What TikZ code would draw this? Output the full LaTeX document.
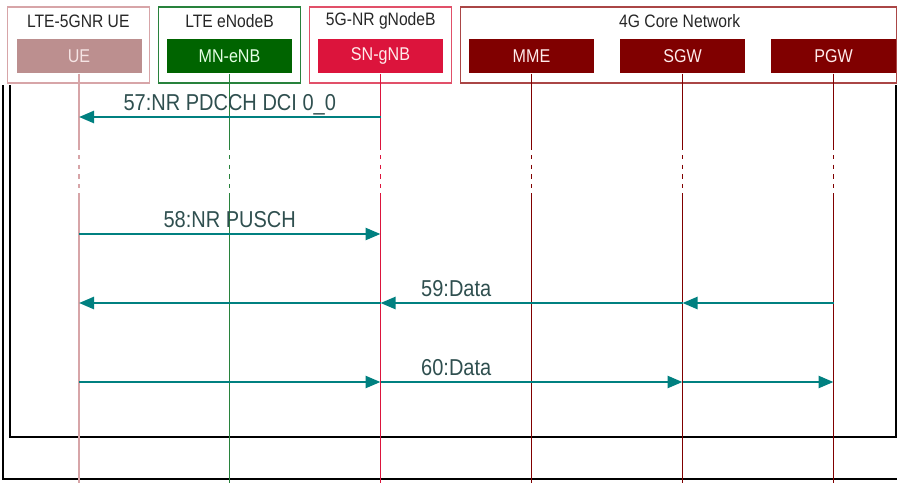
\documentclass[tikz,border=0pt]{standalone}
\usepackage{fontspec}
\setmainfont{Liberation Sans}[FakeStretch=0.87]
\usetikzlibrary{arrows.meta}
\definecolor{UeRose}{RGB}{188,143,143}
\definecolor{UeLine}{RGB}{215,165,168}
\definecolor{UeText}{RGB}{245,228,228}
\definecolor{EnbGreen}{RGB}{0,100,0}
\definecolor{EnbLine}{RGB}{40,130,60}
\definecolor{GnbRed}{RGB}{220,20,60}
\definecolor{GnbLine}{RGB}{225,80,105}
\definecolor{CoreRed}{RGB}{128,0,0}
\definecolor{CoreLine}{RGB}{170,70,70}
\definecolor{Teal}{RGB}{0,128,128}
\definecolor{Slate}{RGB}{47,79,79}

\begin{document}
\begin{tikzpicture}[
        x=1pt, y=-1pt,
        group/.style = {draw, line width=1.2pt, minimum height=76pt, inner sep=0pt},
        title/.style = {font=\fontsize{18}{20}\selectfont, text=black!85},
        entity/.style = {minimum width=125pt, minimum height=34pt, inner sep=0pt,
                         font=\fontsize{18.5}{20}\selectfont},
        frame/.style = {line width=2pt, black},
        msg/.style = {Teal, line width=2.5pt, -{Triangle[length=15pt, width=12pt]}},
        lbl/.style = {text=Slate, font=\fontsize{23}{25}\selectfont, anchor=base,
                      yshift=6.5pt, inner sep=0pt}
    ]
    \useasboundingbox (0,0) rectangle (897,483);

    % group boxes
    \node (gue)   at (78.3,45)  [group, draw=UeLine, minimum width=142pt] {};
    \node (genb)  at (229.5,45) [group, draw=EnbLine, minimum width=142pt] {};
    \node (ggnb)  at (380.8,45) [group, draw=GnbLine, minimum width=142pt] {};
    \node (gcore) at (678.7,45) [group, draw=CoreLine, minimum width=436pt] {};
    \node at (78.3,21)  [title] {LTE-5GNR UE};
    \node at (229.5,21) [title] {LTE eNodeB};
    \node at (380.8,21) [title] {5G-NR gNodeB};
    \node at (679.7,21) [title] {4G Core Network};

    % entities
    \node (ue)  at (79,56.3)    [entity, fill=UeRose, text=UeText] {UE};
    \node (mn)  at (229.5,56.3) [entity, fill=EnbGreen, text=white!90!green] {MN-eNB};
    \node (sn)  at (380.5,56.3) [entity, fill=GnbRed, text=white!92!red] {SN-gNB};
    \node (mme) at (531.5,56.3) [entity, fill=CoreRed, text=white!92!red] {MME};
    \node (sgw) at (682.5,56.3) [entity, fill=CoreRed, text=white!92!red] {SGW};
    \node (pgw) at (833.5,56.3) [entity, fill=CoreRed, text=white!92!red] {PGW};

    % frames
    \draw[frame] (3,85) -- (3,479) -- (897,479);
    \draw[frame] (10,85) -- (10,437) -- (896,437) -- (896,85);

    % lifelines
    \foreach \e/\c in {ue/UeLine, mn/EnbLine, sn/GnbRed, mme/CoreRed, sgw/CoreRed, pgw/CoreRed}{
        \draw[\c, line width=1.3pt] (\e.south) -- (\e.south |- 0,150);
        \draw[\c, line width=1.3pt, dash pattern=on 4.3pt off 5.4pt] (\e.south |- 0,155) -- (\e.south |- 0,190);
        \draw[\c, line width=1.3pt] (\e.south |- 0,193) -- (\e.south |- 0,483);
        \coordinate (\e57) at (\e.south |- 0,117);
        \coordinate (\e58) at (\e.south |- 0,234);
        \coordinate (\e59) at (\e.south |- 0,303);
        \coordinate (\e60) at (\e.south |- 0,382);
    }

    % messages
    \draw[msg] (sn57) -- (ue57) node[lbl, midway] {57:NR PDCCH DCI 0\_0};
    \draw[msg] (ue58) -- (sn58) node[lbl, midway] {58:NR PUSCH};

    \draw[msg] (pgw59) -- (sgw59);
    \draw[msg] (sgw59) -- (sn59);
    \draw[msg] (sn59) -- (ue59);
    \path (ue59) -- (pgw59) node[lbl, midway] {59:Data};

    \draw[msg] (ue60) -- (sn60);
    \draw[msg] (sn60) -- (sgw60);
    \draw[msg] (sgw60) -- (pgw60);
    \path (ue60) -- (pgw60) node[lbl, midway] {60:Data};
\end{tikzpicture}
\end{document}
